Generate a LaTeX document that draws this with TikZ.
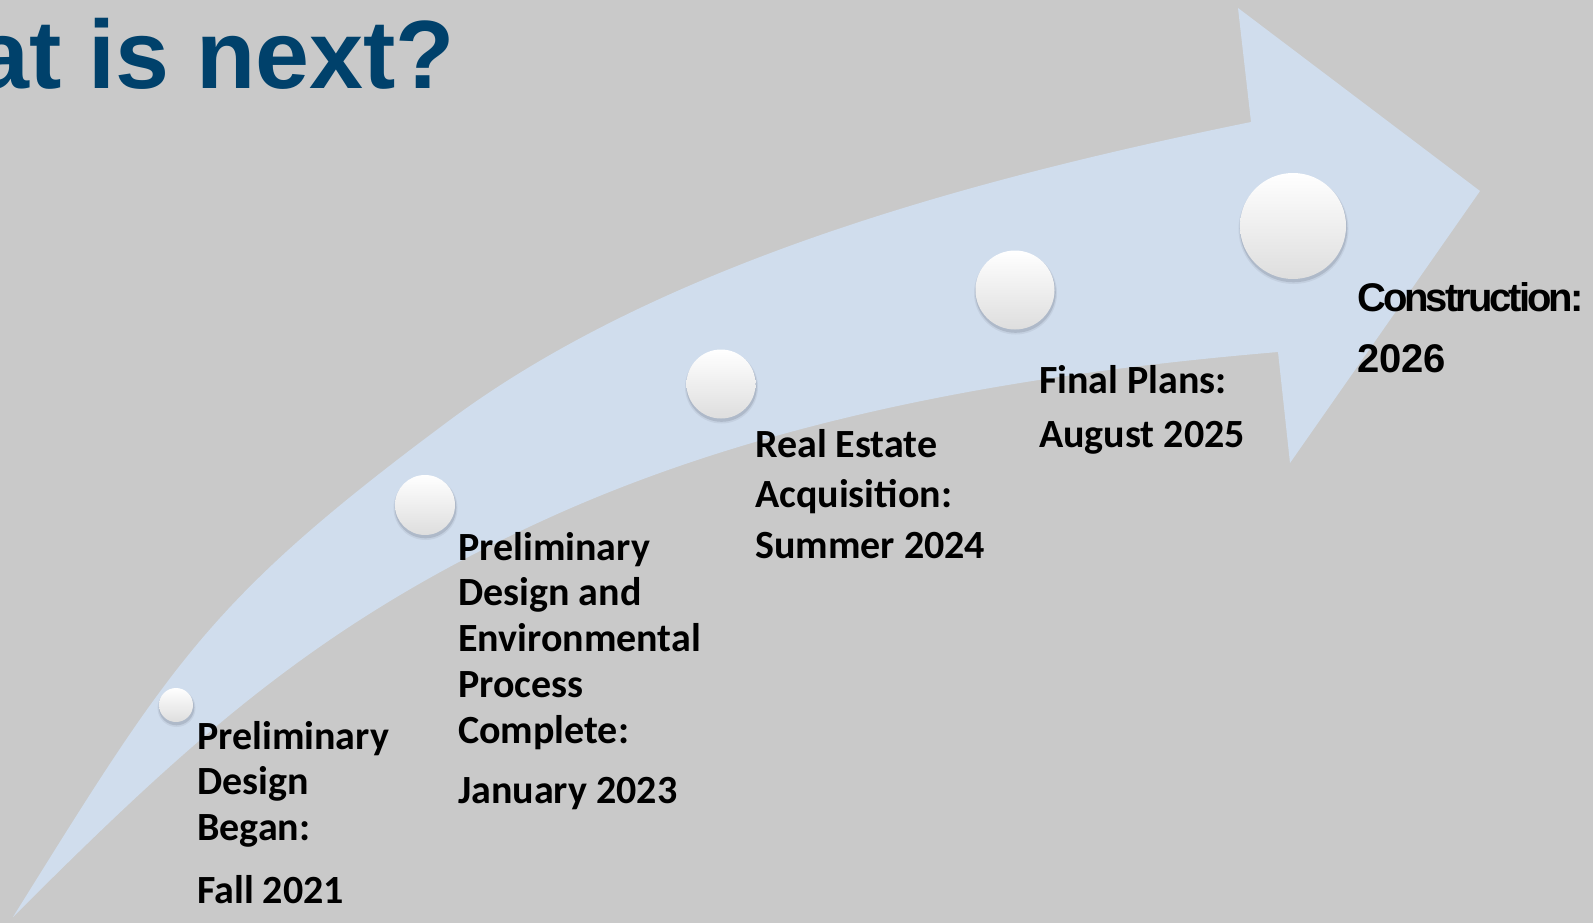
\documentclass[tikz,border=0pt]{standalone}
\usepackage{fontspec}
\newfontfamily\titlefont{Liberation Sans}
\newfontfamily\consfont{Liberation Sans}[LetterSpace=-7.5]
\newfontfamily\lblfont{Carlito}
\definecolor{bg}{RGB}{201,201,201}
\definecolor{arrowblue}{RGB}{208,221,237}
\definecolor{titleblue}{RGB}{0,65,107}
\definecolor{shadowc}{RGB}{110,118,135}
\tikzset{
  title/.style={inner sep=0pt, text=titleblue, font=\titlefont\bfseries\fontsize{97}{97}\selectfont},
  lbl/.style={inner sep=0pt, align=left, anchor=base west, text=black},
  dot/.style={circle, inner sep=0pt, draw=none, top color=white, middle color=white, bottom color=black!13},
}
\begin{document}
\begin{tikzpicture}[x=1pt, y=-1pt]
\useasboundingbox (0,0) rectangle (1593,923);
\fill[bg] (0,0) rectangle (1593,923);
\begin{scope}
\clip (0,0) rectangle (1593,923);
% curved arrow
\fill[arrowblue] (13,917) .. controls (172,662) and (209,599) .. (450,420)
  .. controls (667,259) and (986,176) .. (1251,122)
  -- (1238,8) -- (1480,191) -- (1290,463) -- (1278,352)
  .. controls (1029,373) and (771,416) .. (544,520)
  .. controls (317,624) and (190.5,739.5) .. (13,917) -- cycle;
% title
\node[title, anchor=base east] (title) at (455,89) {What is next?};
% milestones
\foreach \cx/\cy/\r [count=\i] in {176/705/17, 425/505/30, 721/384/34.5, 1015/290/39.5, 1293/226/53}{
  \fill[shadowc, opacity=0.12] (\cx+0.5,\cy+3) circle[radius=\r pt+2pt];
  \fill[shadowc, opacity=0.25] (\cx+0.5,\cy+2.5) circle[radius=\r pt+0.8pt];
  \node[dot, minimum size=2*\r pt] (c\i) at (\cx,\cy) {};
}
% labels (anchor = baseline of last line)
\node[lbl, font=\lblfont\bfseries\fontsize{40}{45.5}\selectfont] (l1) at (197,903) {Preliminary\\Design\\Began:\\[17.5pt]Fall 2021};
\node[lbl, font=\lblfont\bfseries\fontsize{40}{45.8}\selectfont] (l2) at (458,803) {Preliminary\\Design and\\Environmental\\Process\\Complete:\\[14pt]January 2023};
\node[lbl, font=\lblfont\bfseries\fontsize{40}{50.5}\selectfont] (l3) at (755,558) {Real Estate\\Acquisition:\\Summer 2024};
\node[lbl, font=\lblfont\bfseries\fontsize{40}{54}\selectfont] (l4) at (1039,447) {Final Plans:\\August 2025};
\node[lbl, font=\consfont\bfseries\fontsize{40}{61}\selectfont] (l5) at (1357,372) {Construction:\\{\titlefont 2026}};
\end{scope}
\end{tikzpicture}
\end{document}
